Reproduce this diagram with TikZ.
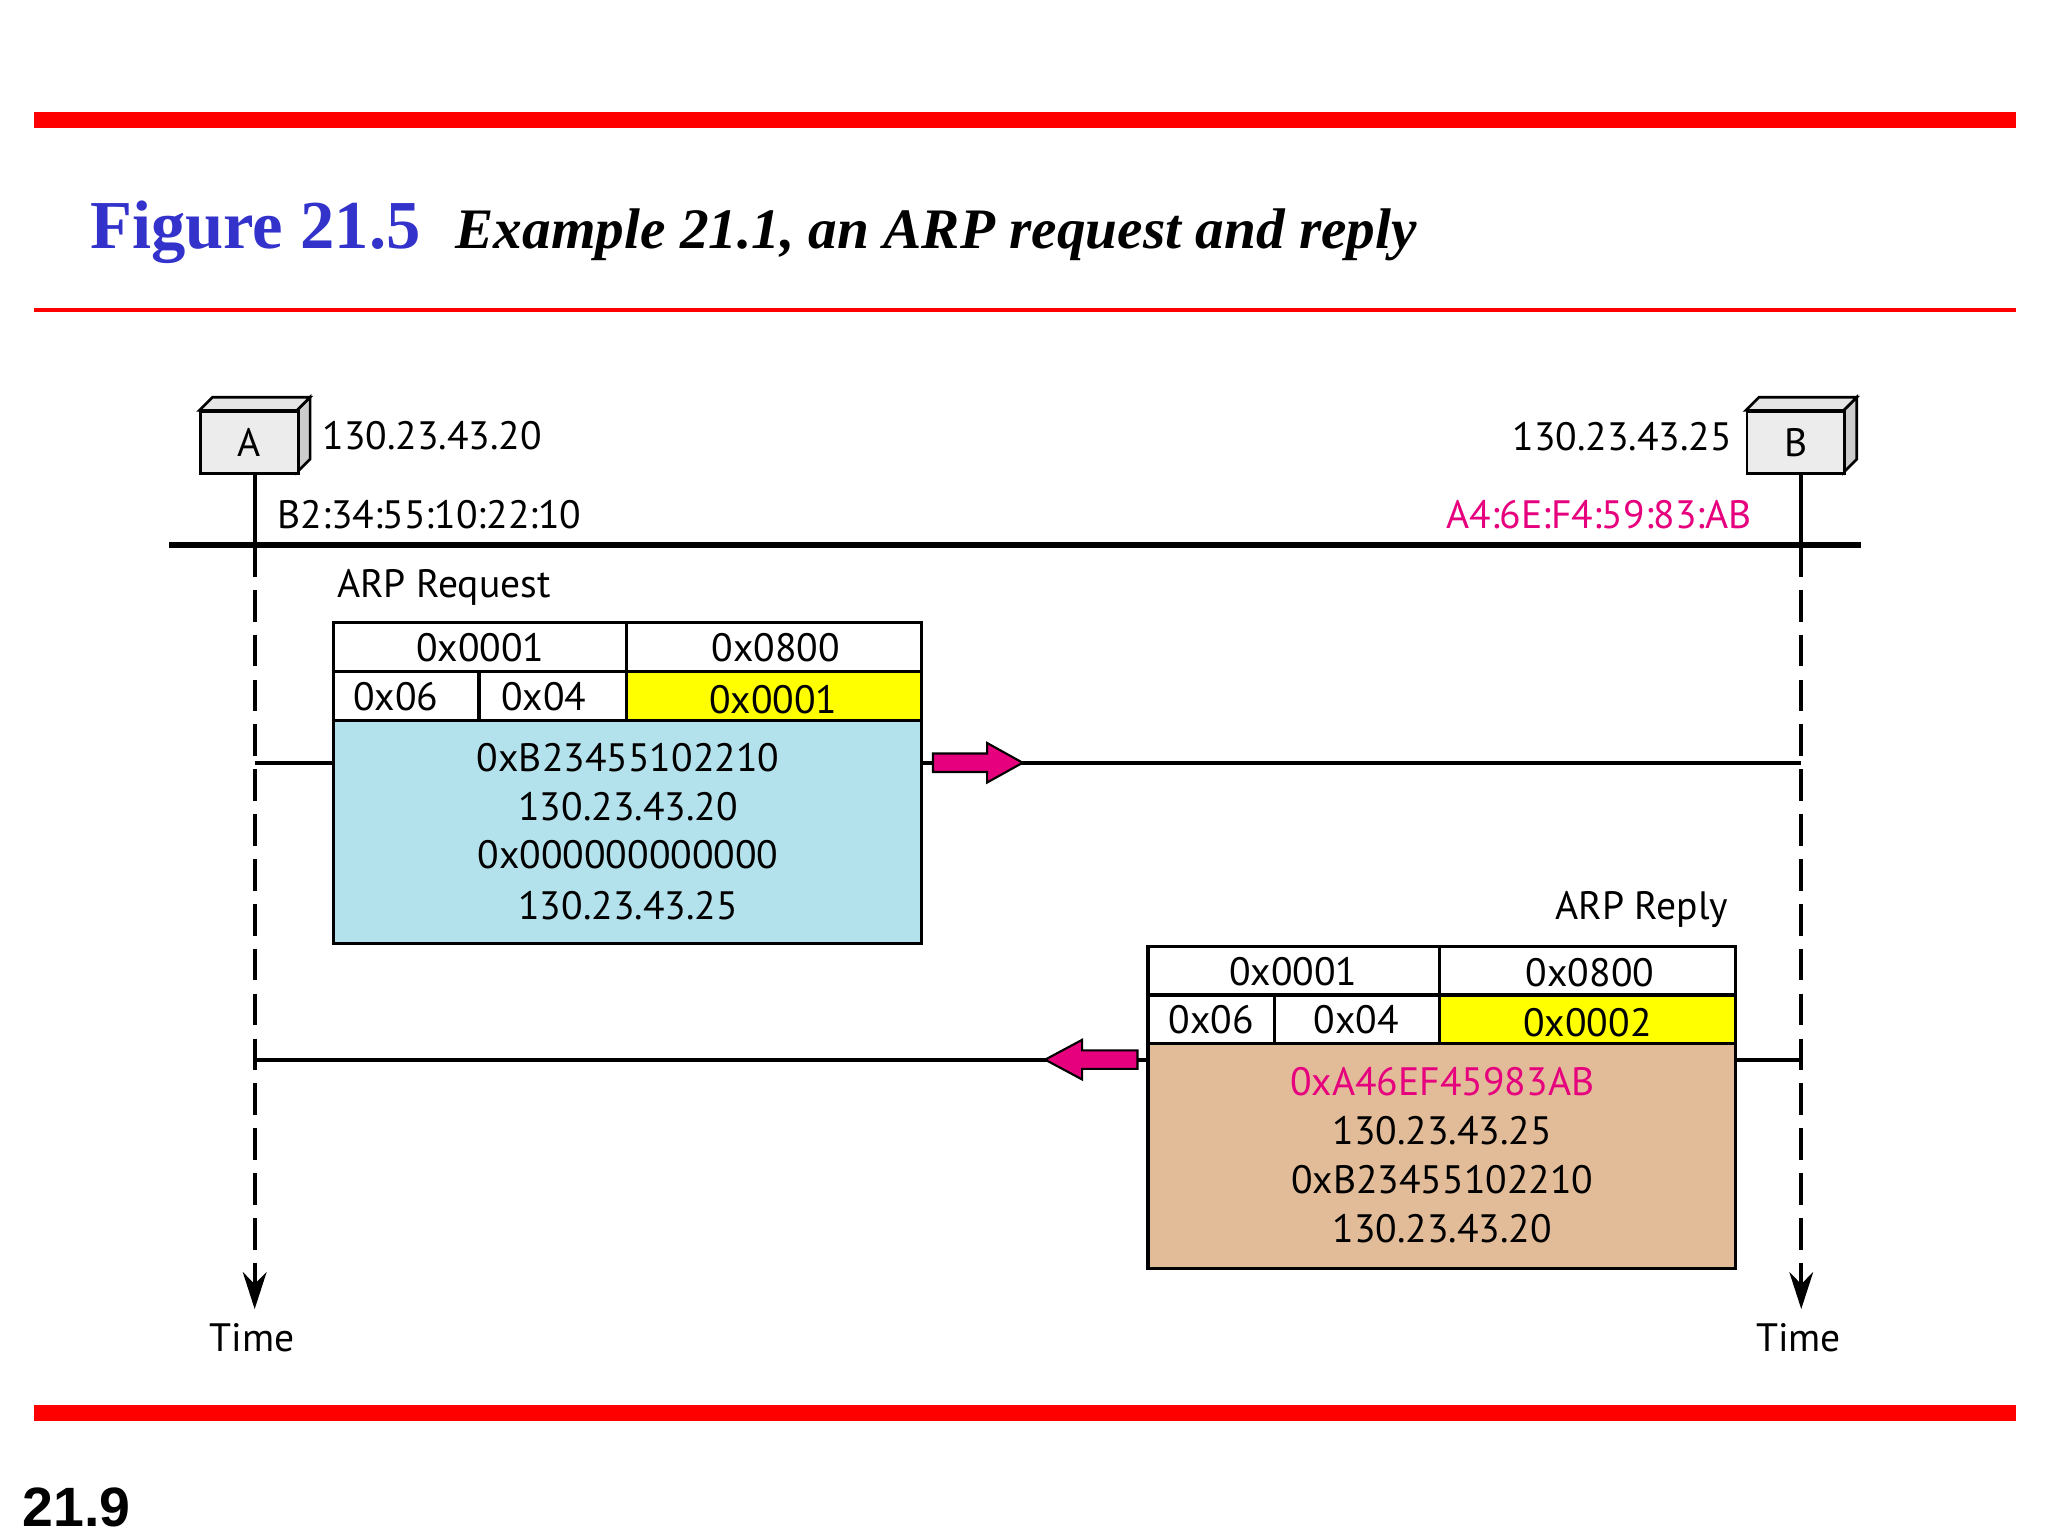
\documentclass[tikz,border=0pt]{standalone}
\usepackage{fontspec}
\usetikzlibrary{arrows.meta}
\setmainfont{Liberation Serif}
\newfontfamily\ptsf{PT Sans}
\newfontfamily\hv{Liberation Sans}
\definecolor{fred}{RGB}{255,0,0}
\definecolor{fblue}{RGB}{51,51,204}
\definecolor{mag}{RGB}{230,0,126}
\definecolor{lblue}{RGB}{180,226,236}
\definecolor{tan}{RGB}{226,188,152}
\definecolor{yel}{RGB}{255,255,0}
\begin{document}
\begin{tikzpicture}[x=0.5pt,y=-0.5pt,
  lab/.style={font=\ptsf\fontsize{15}{18}\selectfont,inner sep=0pt},
  cell/.style={draw,line width=1.2pt},
  fat/.style={fill=mag,draw=black,line width=0.8pt},
  ln/.style={line width=1.5pt}]
\useasboundingbox (0,0) rectangle (1552,1164);
% rules
\fill[fred] (26,85) rectangle (1528,97);
\fill[fred] (26,233.5) rectangle (1528,236.5);
\fill[fred] (26,1065) rectangle (1528,1077);
\node[anchor=base west,inner sep=0pt,text=fblue,font=\bfseries\fontsize{26}{30}\selectfont] (fig) at (68,188) {Figure 21.5};
\node[anchor=base west,inner sep=0pt,font=\bfseries\itshape\fontsize{21.7}{26}\selectfont] (cap) at (345,188) {Example 21.1, an ARP request and reply};
\node[anchor=base west,inner sep=0pt,font=\hv\bfseries\fontsize{21}{24}\selectfont] (pg) at (17,1157) {21.9};
% stations
\foreach \n/\x in {A/151,B/1323}{
  \fill[gray!40,draw=black,line width=1pt] (\x+74,311) -- (\x+84,301) -- (\x+84,348) -- (\x+74,358) -- cycle;
  \fill[gray!20,draw=black,line width=1pt] (\x,311) -- (\x+10,301) -- (\x+84,301) -- (\x+74,311) -- cycle;
  \node[draw,line width=1pt,fill=gray!15,minimum width=37pt,minimum height=23.5pt,anchor=north west,inner sep=0pt,font=\ptsf\fontsize{15}{18}\selectfont] (st\n) at (\x,311) {\n};
}
\node[lab,anchor=west] (ipA) at (244,330) {130.23.43.20};
\node[lab,anchor=west] (macA) at (210,390) {B2:34:55:10:22:10};
\node[lab,anchor=east] (ipB) at (1313,331) {130.23.43.25};
\node[lab,anchor=east,text=mag] (macB) at (1328,390) {A4:6E:F4:59:83:AB};
% bus
\coordinate (busL) at (128,413); \coordinate (busR) at (1410,413);
\draw[line width=2.5pt] (busL) -- (busR);
% timelines
\coordinate (tA) at (193,413); \coordinate (eA) at (193,992);
\coordinate (tB) at (1365,413); \coordinate (eB) at (1365,992);
\draw[ln] (stA.south -| tA) -- (tA);
\draw[ln] (stB.south -| tB) -- (tB);
\draw[ln,dash pattern=on 12pt off 5pt,-{Stealth[length=14pt,width=9pt]}] (tA) -- (eA);
\draw[ln,dash pattern=on 12pt off 5pt,-{Stealth[length=14pt,width=9pt]}] (tB) -- (eB);
\node[lab] (timeA) at (191,1014) {Time};
\node[lab] (timeB) at (1363,1014) {Time};
% request
\node[lab,anchor=west] (reqlab) at (255,445) {ARP Request};
\draw[cell] (253,472) rectangle (475,509);
\draw[cell] (475,472) rectangle (698,509);
\draw[cell] (253,509) rectangle (363,546);
\draw[cell] (363,509) rectangle (475,546);
\draw[cell,fill=yel] (475,509) rectangle (698,546);
\draw[cell,fill=lblue] (253,546) rectangle (698,715);
\node[lab] (r1) at (364,491) {0x0001};
\node[lab] (r2) at (588,491) {0x0800};
\node[lab] (r3) at (300,528) {0x06};
\node[lab] (r4) at (412,528) {0x04};
\node[lab] (r5) at (586,530) {0x0001};
\node[lab] (r6) at (476,574) {0xB23455102210};
\node[lab] (r7) at (476,611) {130.23.43.20};
\node[lab] (r8) at (476,648) {0x000000000000};
\node[lab] (r9) at (476,686) {130.23.43.25};
\coordinate (q1) at (193,578); \coordinate (q2) at (253,578);
\coordinate (q3) at (698,578); \coordinate (q4) at (1365,578);
\draw[ln] (q1) -- (q2); \draw[ln] (q3) -- (q4);
\draw[fat] (707,571) -- (748,571) -- (748,563) -- (775,578) -- (748,593) -- (748,585) -- (707,585) -- cycle;
% reply
\node[lab,anchor=east] (replab) at (1310,689) {ARP Reply};
\draw[cell] (870,717) rectangle (1091,754);
\draw[cell] (1091,717) rectangle (1315,754);
\draw[cell] (870,754) rectangle (966,791);
\draw[cell] (966,754) rectangle (1091,791);
\draw[cell,fill=yel] (1091,754) rectangle (1315,791);
\draw[cell,fill=tan] (870,791) rectangle (1315,961);
\node[lab] (p1) at (980,736) {0x0001};
\node[lab] (p2) at (1205,737) {0x0800};
\node[lab] (p3) at (918,773) {0x06};
\node[lab] (p4) at (1028,773) {0x04};
\node[lab] (p5) at (1203,775) {0x0002};
\node[lab,text=mag] (p6) at (1093,820) {0xA46EF45983AB};
\node[lab] (p7) at (1093,857) {130.23.43.25};
\node[lab] (p8) at (1093,894) {0xB23455102210};
\node[lab] (p9) at (1093,931) {130.23.43.20};
\coordinate (s1) at (193,803); \coordinate (s2) at (870,803);
\coordinate (s3) at (1315,803); \coordinate (s4) at (1365,803);
\draw[ln] (s1) -- (s2); \draw[ln] (s3) -- (s4);
\draw[fat] (862,796) -- (820,796) -- (820,788) -- (792,803) -- (820,818) -- (820,810) -- (862,810) -- cycle;
\end{tikzpicture}
\end{document}
